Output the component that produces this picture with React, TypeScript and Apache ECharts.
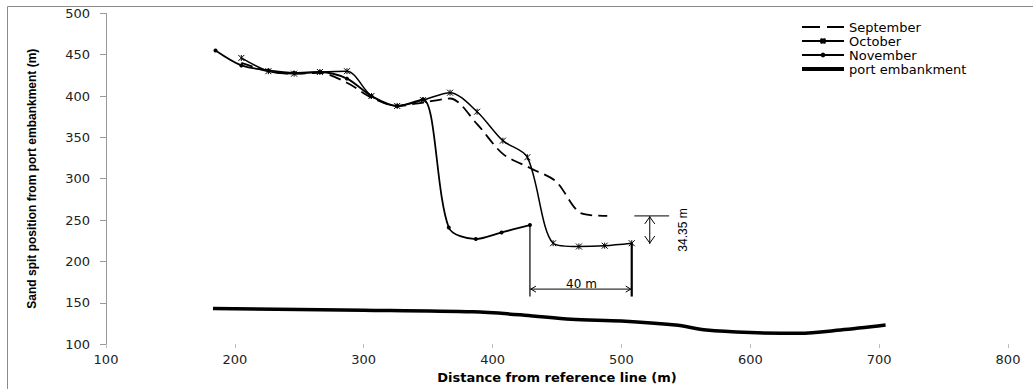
import React, { useEffect, useRef } from "react";
import * as echarts from "echarts";

// ---- data ----
const septemberX = [205, 226, 246, 266, 287, 306, 326, 346, 367, 388, 408, 429, 449, 469, 489];
const septemberY = [440, 430, 427, 428, 416, 398, 388, 392, 397, 366, 330, 313, 297, 258, 255];

const octoberX = [205, 226, 246, 266, 287, 306, 326, 346, 367, 388, 408, 427, 447, 467, 487, 508];
const octoberY = [446, 430, 427, 429, 430, 400, 388, 395, 404, 381, 346, 326, 222, 218, 219, 222];

const novemberX = [185, 205, 226, 246, 266, 287, 306, 326, 346, 366, 387, 407, 429];
const novemberY = [455, 437, 431, 428, 429, 421, 400, 388, 396, 241, 227, 235, 244];

const embankmentX = [183, 300, 385, 425, 461, 500, 542, 566, 600, 638, 670, 705];
const embankmentY = [143, 141, 139, 135, 130, 128, 123, 117, 114, 113, 117, 123];

const seriesNames = ["September", "October", "November", "port embankment"];

// annotation values (data space)
const widthDimLeftX = 429;
const widthDimRightX = 508;
const widthDimY = 166.5;
const widthDimBottomY = 157.5;
const widthDimTopLeftY = 244;
const widthDimTopRightY = 222;
const widthDimLabel = "40 m";
const widthDimLabelPos = [469, 173];

const gapTopY = 255;
const gapBottomY = 221;
const gapArrowX = 522;
const gapTickX = [510, 537];
const gapLabel = "34.35 m";
const gapLabelPos = [548, 238];

const xTicks = { min: 100, max: 800, interval: 100 };
const yTicks = { min: 100, max: 500, interval: 50 };

const pairs = (xs: number[], ys: number[]) => xs.map((x, i) => [x, ys[i]]);

const crossSymbol = "path://M0,0L10,10M10,0L0,10M5,0L5,10";

export default function App() {
  const ref = useRef<HTMLDivElement>(null);

  useEffect(() => {
    if (!ref.current) return;
    const chart = echarts.init(ref.current, undefined, { renderer: "svg" });
    const font = "DejaVu Sans";
    const narrow = "'Liberation Sans Narrow', 'Liberation Sans', Arial";

    chart.setOption({
      animation: false,
      backgroundColor: "#ffffff",
      grid: { left: 106, right: 25, top: 13.3, bottom: 40.5, containLabel: false },
      legend: {
        orient: "vertical",
        left: 795,
        top: 15,
        itemWidth: 42,
        itemHeight: 6,
        itemGap: 0,
        data: [
          { name: seriesNames[0], itemStyle: { opacity: 0 }, lineStyle: { width: 1.8, type: [18, 7] } },
          { name: seriesNames[1] },
          { name: seriesNames[2] },
          { name: seriesNames[3], itemStyle: { opacity: 0 }, lineStyle: { width: 4 } },
        ],
        textStyle: { fontFamily: font, fontSize: 13, color: "#000", lineHeight: 14 },
        selectedMode: false,
      },
      xAxis: {
        type: "value",
        min: xTicks.min,
        max: xTicks.max,
        interval: xTicks.interval,
        axisLine: { show: false },
        axisTick: { show: true, length: 4, lineStyle: { color: "#bbbbbb" } },
        axisLabel: { fontFamily: font, fontSize: 13, color: "#222", margin: 9 },
        splitLine: { show: false },
        name: "Distance from reference line (m)",
        nameLocation: "middle",
        nameGap: 25,
        nameTextStyle: { fontFamily: font, fontWeight: "bold", fontSize: 13, color: "#000" },
      },
      yAxis: {
        type: "value",
        min: yTicks.min,
        max: yTicks.max,
        interval: yTicks.interval,
        axisLine: { show: true, lineStyle: { color: "#999999" } },
        axisTick: { show: true, length: 6, lineStyle: { color: "#999999" } },
        axisLabel: { fontFamily: font, fontSize: 13, color: "#222", margin: 16 },
        splitLine: { show: false },
        name: "Sand spit position from port embankment (m)",
        nameLocation: "middle",
        nameGap: 68,
        nameRotate: 90,
        nameTextStyle: { fontFamily: narrow, fontWeight: "bold", fontSize: 12, color: "#000" },
      },
      series: [
        {
          name: seriesNames[0],
          type: "line",
          data: pairs(septemberX, septemberY),
          smooth: 0.3,
          showSymbol: false,
          symbol: "none",
          lineStyle: { color: "#000", width: 1.8, type: [12, 6] },
          itemStyle: { color: "#000" },
          emphasis: { disabled: true },
        },
        {
          name: seriesNames[1],
          type: "line",
          data: pairs(octoberX, octoberY),
          smooth: 0.3,
          symbol: crossSymbol,
          symbolSize: 6,
          lineStyle: { color: "#000", width: 1.5 },
          itemStyle: { color: "#000", borderColor: "#000", borderWidth: 1 },
          emphasis: { disabled: true },
        },
        {
          name: seriesNames[2],
          type: "line",
          data: pairs(novemberX, novemberY),
          smooth: 0.3,
          symbol: "circle",
          symbolSize: 4,
          lineStyle: { color: "#000", width: 1.8 },
          itemStyle: { color: "#000" },
          emphasis: { disabled: true },
        },
        {
          name: seriesNames[3],
          type: "line",
          data: pairs(embankmentX, embankmentY),
          smooth: 0.3,
          showSymbol: false,
          symbol: "none",
          lineStyle: { color: "#000", width: 3.5 },
          itemStyle: { color: "#000" },
          emphasis: { disabled: true },
        },
      ],
    });

    const px = (x: number, y: number) => chart.convertToPixel({ gridIndex: 0 }, [x, y]) as number[];

    const lA = px(widthDimLeftX, widthDimTopLeftY);
    const lB = px(widthDimLeftX, widthDimBottomY);
    const rA = px(widthDimRightX, widthDimTopRightY);
    const rB = px(widthDimRightX, widthDimBottomY);
    const hL = px(widthDimLeftX, widthDimY);
    const hR = px(widthDimRightX, widthDimY);
    const t40 = px(widthDimLabelPos[0], widthDimLabelPos[1]);

    const gT = px(gapArrowX, gapTopY);
    const gB = px(gapArrowX, gapBottomY);
    const gt1 = px(gapTickX[0], gapTopY);
    const gt2 = px(gapTickX[1], gapTopY);
    const tGap = px(gapLabelPos[0], gapLabelPos[1]);

    const stroke = (w: number) => ({ stroke: "#000", lineWidth: w, fill: "none" });

    chart.setOption({
      graphic: [
        {
          type: "rect",
          silent: true,
          shape: { x: 7.5, y: 6.5, width: 1100, height: 500 },
          style: { fill: "none", stroke: "#8a8a8a", lineWidth: 1 },
        },
        { type: "line", silent: true, shape: { x1: lA[0], y1: lA[1], x2: lB[0], y2: lB[1] }, style: stroke(1.2) },
        { type: "line", silent: true, shape: { x1: rA[0], y1: rA[1], x2: rB[0], y2: rB[1] }, style: stroke(2.2) },
        { type: "line", silent: true, shape: { x1: hL[0], y1: hL[1], x2: hR[0], y2: hR[1] }, style: stroke(1) },
        {
          type: "polyline",
          silent: true,
          shape: { points: [[hL[0] + 6, hL[1] - 3], [hL[0] + 1, hL[1]], [hL[0] + 6, hL[1] + 3]] },
          style: stroke(1),
        },
        {
          type: "polyline",
          silent: true,
          shape: { points: [[hR[0] - 6, hR[1] - 3], [hR[0] - 1, hR[1]], [hR[0] - 6, hR[1] + 3]] },
          style: stroke(1),
        },
        {
          type: "text",
          silent: true,
          x: t40[0],
          y: t40[1],
          style: {
            text: widthDimLabel,
            fontFamily: font,
            fontSize: 12,
            fill: "#000",
            align: "center",
            verticalAlign: "middle",
          },
        },
        { type: "line", silent: true, shape: { x1: gt1[0], y1: gt1[1], x2: gt2[0], y2: gt2[1] }, style: stroke(1) },
        { type: "line", silent: true, shape: { x1: gT[0], y1: gT[1], x2: gB[0], y2: gB[1] }, style: stroke(1) },
        {
          type: "polyline",
          silent: true,
          shape: { points: [[gT[0] - 5, gT[1] + 8], [gT[0], gT[1] + 1], [gT[0] + 5, gT[1] + 8]] },
          style: stroke(1),
        },
        {
          type: "polyline",
          silent: true,
          shape: { points: [[gB[0] - 5, gB[1] - 8], [gB[0], gB[1] - 1], [gB[0] + 5, gB[1] - 8]] },
          style: stroke(1),
        },
        {
          type: "text",
          silent: true,
          x: tGap[0],
          y: tGap[1],
          rotation: Math.PI / 2,
          style: {
            text: gapLabel,
            fontFamily: narrow,
            fontSize: 12,
            fill: "#000",
            align: "center",
            verticalAlign: "middle",
          },
        },
      ],
    });

    return () => chart.dispose();
  }, []);

  return (
    <div
      ref={ref}
      style={{ position: "fixed", left: 0, top: 0, width: 1033, height: 389, background: "#fff" }}
    />
  );
}
